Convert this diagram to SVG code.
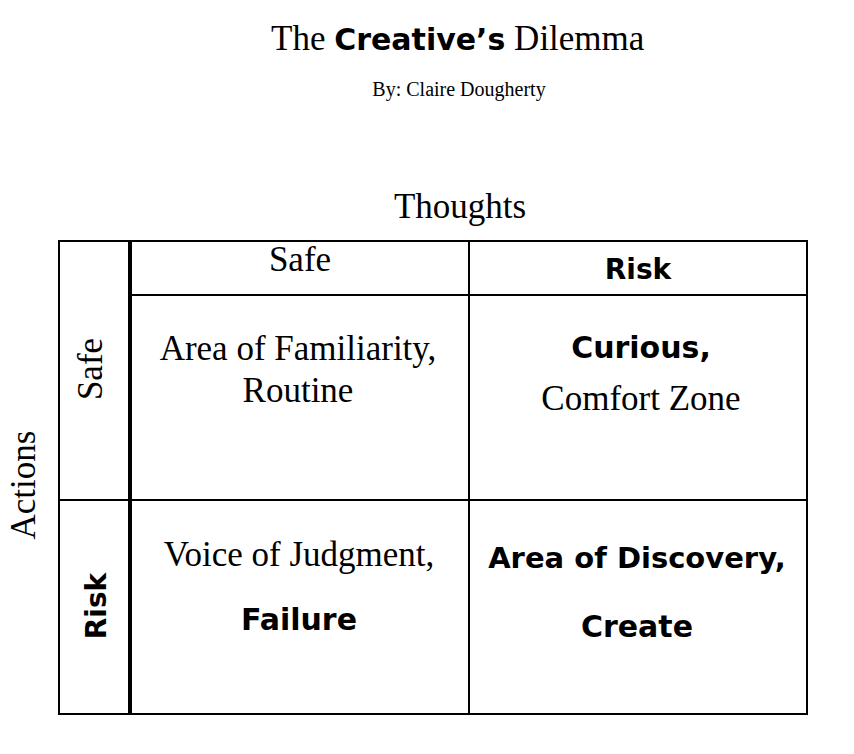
<svg xmlns="http://www.w3.org/2000/svg" width="854" height="754" viewBox="0 0 854 754">
<style>
.s{font-family:"Liberation Serif","Times New Roman",serif;fill:#000}
.f{font-family:"DejaVu Sans",sans-serif;font-weight:bold;fill:#000}
.big{font-size:35px}
.m{text-anchor:middle}
.ln{stroke:#000;stroke-width:2;fill:none}
</style>
<rect width="854" height="754" fill="#fff"/>
<g id="title">
<text class="s big" x="271" y="50">The <tspan class="f" font-size="30">Creative’s</tspan> Dilemma</text>
<text class="s m" x="459" y="96" font-size="20">By: Claire Dougherty</text>
</g>
<g id="connectors">
<rect class="ln" x="59" y="241" width="748" height="473"/>
<line x1="130" y1="241" x2="130" y2="714" stroke="#000" stroke-width="4"/>
<line class="ln" x1="130" y1="295" x2="807" y2="295"/>
<line class="ln" x1="59" y1="500" x2="807" y2="500"/>
<line class="ln" x1="469" y1="241" x2="469" y2="714"/>
</g>
<g id="axis-thoughts"><text class="s big m" x="460" y="218">Thoughts</text></g>
<g id="axis-actions"><text class="s big m" transform="translate(35,485) rotate(-90)">Actions</text></g>
<g id="col-safe"><text class="s big m" x="300" y="271">Safe</text></g>
<g id="col-risk"><text class="f m" font-size="28" x="638" y="279">Risk</text></g>
<g id="row-safe"><text class="s big m" transform="translate(102,369) rotate(-90)">Safe</text></g>
<g id="row-risk"><text class="f m" font-size="28" transform="translate(106,606) rotate(-90)">Risk</text></g>
<g id="cell-safe-safe">
<text class="s big m" x="298" y="360">Area of Familiarity,</text>
<text class="s big m" x="298" y="402">Routine</text>
</g>
<g id="cell-safe-risk">
<text class="f m" font-size="30" x="641" y="358">Curious,</text>
<text class="s big m" x="641" y="410">Comfort Zone</text>
</g>
<g id="cell-risk-safe">
<text class="s big m" x="299" y="566">Voice of Judgment,</text>
<text class="f m" font-size="30" x="299" y="630">Failure</text>
</g>
<g id="cell-risk-risk">
<text class="f m" font-size="29" x="637" y="568">Area of Discovery,</text>
<text class="f m" font-size="30" x="637" y="637">Create</text>
</g>
</svg>
